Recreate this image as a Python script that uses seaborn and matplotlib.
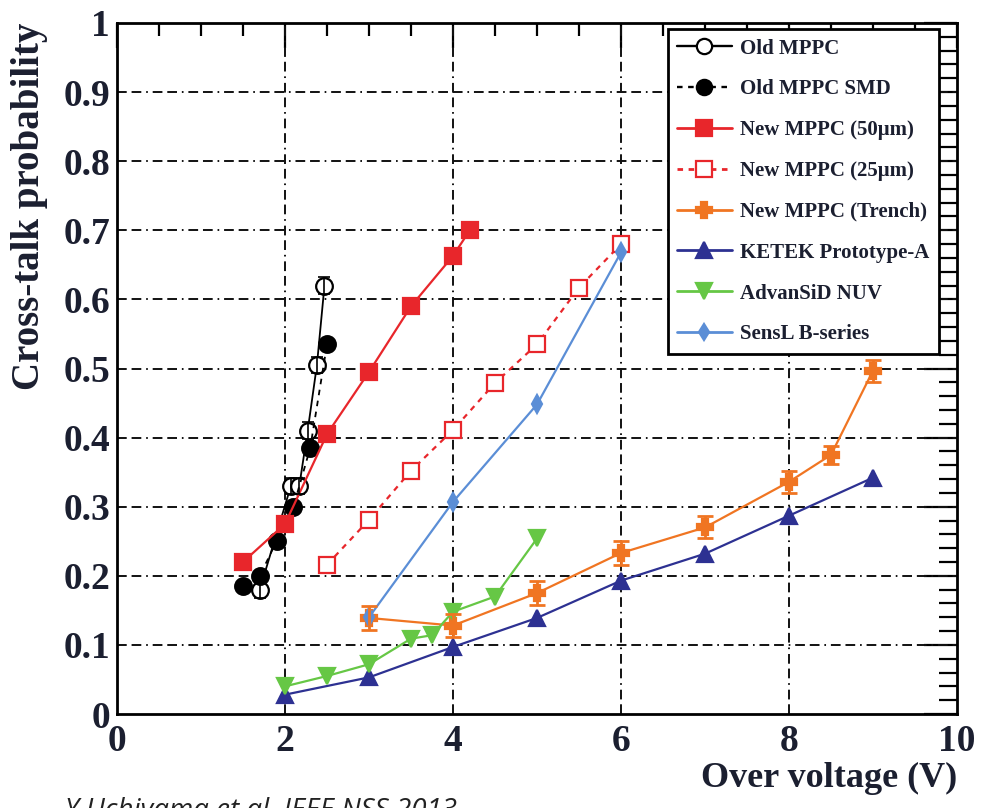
import numpy as np
import pandas as pd
import matplotlib
matplotlib.use("Agg")
import matplotlib.pyplot as plt
from matplotlib.lines import Line2D
from matplotlib.ticker import MultipleLocator
import seaborn as sns

# ---- data: cross-talk probability vs over voltage ----
old_mppc_v = [1.7, 2.07, 2.17, 2.27, 2.38, 2.47]
old_mppc_p = [0.18, 0.33, 0.33, 0.41, 0.505, 0.62]
old_mppc_err = [0.012, 0.012, 0.012, 0.012, 0.012, 0.012]

old_smd_v = [1.5, 1.7, 1.9, 2.1, 2.3, 2.5]
old_smd_p = [0.185, 0.20, 0.25, 0.30, 0.385, 0.535]

new50_v = [1.5, 2.0, 2.5, 3.0, 3.5, 4.0, 4.2]
new50_p = [0.22, 0.275, 0.405, 0.495, 0.59, 0.663, 0.70]

new25_v = [2.5, 3.0, 3.5, 4.0, 4.5, 5.0, 5.5, 6.0]
new25_p = [0.216, 0.281, 0.352, 0.411, 0.479, 0.535, 0.617, 0.68]

trench_v = [3.0, 4.0, 5.0, 6.0, 7.0, 8.0, 8.5, 9.0]
trench_p = [0.139, 0.128, 0.175, 0.233, 0.27, 0.336, 0.375, 0.497]
trench_err = [0.017, 0.017, 0.017, 0.017, 0.016, 0.016, 0.013, 0.016]

ketek_v = [2.0, 3.0, 4.0, 5.0, 6.0, 7.0, 8.0, 9.0]
ketek_p = [0.028, 0.053, 0.097, 0.139, 0.193, 0.232, 0.287, 0.342]

advansid_v = [2.0, 2.5, 3.0, 3.5, 3.75, 4.0, 4.5, 5.0]
advansid_p = [0.040, 0.055, 0.072, 0.109, 0.114, 0.148, 0.170, 0.254]

sensl_v = [3.0, 4.0, 5.0, 6.0]
sensl_p = [0.14, 0.307, 0.448, 0.668]

x_ticks = [0, 2, 4, 6, 8, 10]
x_tick_labels = ["0", "2", "4", "6", "8", "10"]
y_ticks = [0, 0.1, 0.2, 0.3, 0.4, 0.5, 0.6, 0.7, 0.8, 0.9, 1.0]
y_tick_labels = ["0", "0.1", "0.2", "0.3", "0.4", "0.5", "0.6", "0.7", "0.8", "0.9", "1"]

# ---- styling ----
sns.set_style("white")
plt.rcParams["font.family"] = ["Liberation Serif", "DejaVu Serif"]
plt.rcParams["lines.scale_dashes"] = False

RED = "#e8262b"
ORANGE = "#f07522"
NAVY = "#2d3192"
GREEN = "#66c745"
SKY = "#5b8ed6"
TXT = "#1b1f30"

fig = plt.figure(figsize=(9.81, 8.08), dpi=100)
ax = fig.add_axes([117 / 981, 1 - 714 / 808, 840 / 981, 691 / 808])

series = [
    dict(v=old_mppc_v, p=old_mppc_p, label="Old MPPC", color="black", marker="o",
         mfc="white", ms=12, ls="-", lw=1.3),
    dict(v=old_smd_v, p=old_smd_p, label="Old MPPC SMD", color="black", marker="o",
         mfc="black", ms=12, ls=(0, (4, 4)), lw=1.3),
    dict(v=new50_v, p=new50_p, label="New MPPC (50\u03bcm)", color=RED, marker="s",
         mfc=RED, ms=12, ls="-", lw=1.6),
    dict(v=new25_v, p=new25_p, label="New MPPC (25\u03bcm)", color=RED, marker="s",
         mfc="white", ms=12, ls=(0, (4, 4)), lw=1.6),
    dict(v=trench_v, p=trench_p, label="New MPPC (Trench)", color=ORANGE, marker="P",
         mfc=ORANGE, ms=12, ls="-", lw=1.6),
    dict(v=ketek_v, p=ketek_p, label="KETEK Prototype-A", color=NAVY, marker="^",
         mfc=NAVY, ms=12, ls="-", lw=1.6),
    dict(v=advansid_v, p=advansid_p, label="AdvanSiD NUV", color=GREEN, marker="v",
         mfc=GREEN, ms=12, ls="-", lw=1.6),
    dict(v=sensl_v, p=sensl_p, label="SensL B-series", color=SKY, marker="d",
         mfc=SKY, ms=9, ls="-", lw=1.6),
]

handles = []
for s in series:
    df = pd.DataFrame({"v": s["v"], "p": s["p"]})
    sns.lineplot(data=df, x="v", y="p", ax=ax, sort=False, estimator=None,
                 color=s["color"], linewidth=s["lw"], linestyle=s["ls"],
                 marker=s["marker"], markersize=s["ms"],
                 markerfacecolor=s["mfc"], markeredgecolor=s["color"],
                 markeredgewidth=1.6, legend=False, zorder=3)
    handles.append(Line2D([], [], color=s["color"], lw=s["lw"] + 0.4, ls=s["ls"],
                          marker=s["marker"], ms=s["ms"] - 1, mfc=s["mfc"],
                          mec=s["color"], mew=1.6, label=s["label"]))

# error bars
ax.errorbar(old_mppc_v, old_mppc_p, yerr=old_mppc_err, fmt="none", ecolor="black",
            elinewidth=1.2, capsize=4, capthick=1.2, zorder=4)
ax.errorbar(trench_v, trench_p, yerr=trench_err, fmt="none", ecolor=ORANGE,
            elinewidth=2.0, capsize=6, capthick=2.0, zorder=4)

# axes, ticks and grid
ax.set_xlim(0, 10)
ax.set_ylim(0, 1)
ax.set_xticks(x_ticks)
ax.set_xticklabels(x_tick_labels)
ax.set_yticks(y_ticks)
ax.set_yticklabels(y_tick_labels)
ax.xaxis.set_minor_locator(MultipleLocator(0.5))
ax.yaxis.set_minor_locator(MultipleLocator(0.02))
ax.tick_params(which="both", direction="in", top=True, right=True,
               color="black", width=1.6)
ax.tick_params(axis="x", which="major", length=18, pad=7, labelsize=27, labelcolor=TXT)
ax.tick_params(axis="x", which="minor", length=9)
ax.tick_params(axis="y", which="major", length=24, pad=5, labelsize=27, labelcolor=TXT)
ax.tick_params(axis="y", which="minor", length=13)
for lab in ax.get_xticklabels() + ax.get_yticklabels():
    lab.set_fontweight("bold")

for sp in ax.spines.values():
    sp.set_visible(True)
    sp.set_color("black")
    sp.set_linewidth(2.0)

grid_dash = (0, (7, 3.5, 7, 3.5, 1.2, 3.5))
for gx in [2, 4, 6, 8]:
    ax.axvline(gx, color="#111111", lw=1.4, ls=grid_dash, zorder=1)
for gy in y_ticks[1:-1]:
    ax.axhline(gy, color="#111111", lw=1.4, ls=grid_dash, zorder=1)

ax.set_xlabel("Over voltage (V)", fontsize=26, fontweight="bold", color=TXT, loc="right")
ax.xaxis.set_label_coords(1.0, -0.07)
ax.set_ylabel("Cross-talk probability", fontsize=28, fontweight="bold", color=TXT, loc="top")
ax.yaxis.set_label_coords(-0.082, 1.0)

leg = ax.legend(handles=handles, loc="upper left", bbox_to_anchor=(0.656, 0.991),
                frameon=True, fancybox=False, edgecolor="black", framealpha=1,
                prop=dict(family="Liberation Serif", weight="bold", size=15),
                handlelength=2.6, handletextpad=0.4, labelspacing=1.0,
                borderpad=0.45, borderaxespad=0)
leg.get_frame().set_linewidth(2.0)
for t in leg.get_texts():
    t.set_color(TXT)

fig.text(65 / 981, -10 / 808, "Y.Uchiyama et al. IEEE NSS 2013", fontsize=20,
         style="italic", family=["Open Sans", "DejaVu Sans"], color="#222222",
         va="baseline", ha="left")

fig.savefig("out.png", dpi=100)
